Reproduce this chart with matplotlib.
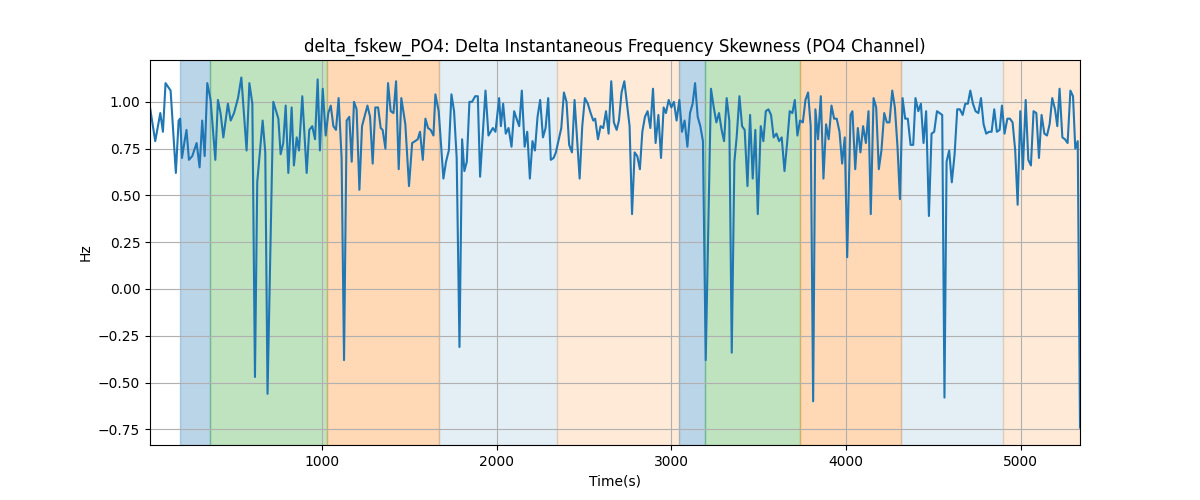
import matplotlib
matplotlib.use("Agg")
import matplotlib.pyplot as plt

# time (s) and delta skewness (Hz)
t = [15, 45, 74, 89, 104, 133, 163, 179, 188, 198, 213, 224, 238, 257, 282, 299, 314, 328,
     343, 362, 389, 404, 419, 435, 461, 477, 496, 519, 538, 568, 584, 601, 616, 629, 660, 675,
     688, 721, 750, 763, 778, 792, 807, 826, 839, 855, 868, 887, 912, 927, 944, 960, 975, 988,
     1004, 1021, 1036, 1050, 1065, 1080, 1095, 1112, 1126, 1141, 1156, 1170, 1183, 1198, 1214,
     1229, 1260, 1275, 1290, 1305, 1321, 1336, 1347, 1363, 1378, 1393, 1409, 1424, 1439, 1454,
     1477, 1498, 1516, 1533, 1548, 1561, 1577, 1592, 1607, 1622, 1638, 1649, 1668, 1695, 1710,
     1726, 1741, 1756, 1771, 1787, 1802, 1815, 1829, 1844, 1859, 1877, 1892, 1905, 1920, 1936,
     1953, 1978, 1993,
     2014, 2024, 2037, 2052, 2068, 2085, 2100, 2114, 2129, 2144, 2160, 2175, 2190, 2205, 2219,
     2234, 2249, 2265, 2280, 2295, 2310, 2326, 2339, 2370, 2385, 2400, 2415, 2431, 2446, 2461,
     2475, 2490, 2505, 2522, 2538, 2553, 2564, 2580, 2595, 2610, 2626, 2641, 2656, 2671, 2687,
     2700, 2715, 2731, 2746, 2761, 2775, 2790, 2805, 2820, 2834, 2849, 2864, 2880, 2895, 2910,
     2926, 2941, 2956, 2969, 2985, 3000, 3015, 3030, 3046, 3061, 3076, 3092, 3107, 3122, 3136,
     3151, 3166, 3181, 3197, 3227, 3243, 3258, 3273, 3288, 3302, 3317, 3332, 3346,
     3361, 3374, 3390, 3405, 3420, 3436, 3451, 3466, 3481, 3495, 3512, 3527, 3541, 3556, 3571,
     3586, 3602, 3617, 3632, 3648, 3663, 3678, 3693, 3707, 3722, 3737, 3753, 3768, 3783, 3798,
     3812, 3825, 3840, 3856, 3871, 3886, 3901, 3917, 3932, 3947, 3963, 3978, 3993, 4007,
     4026, 4037, 4053, 4068, 4083, 4098, 4114, 4129, 4142, 4158, 4173, 4188, 4203, 4219, 4234,
     4249, 4265, 4280, 4295, 4309, 4324, 4339, 4354, 4370, 4385, 4398, 4414, 4429, 4444, 4459,
     4475, 4490, 4505, 4521, 4536, 4551, 4564, 4576, 4591, 4606, 4622, 4637, 4652, 4668, 4683,
     4698, 4712, 4727, 4742, 4758, 4773, 4788, 4803, 4819, 4834, 4849, 4864, 4880, 4893, 4908,
     4924, 4939, 4954, 4969, 4983, 4998, 5013, 5029, 5044, 5059, 5074, 5090, 5105, 5120, 5136,
     5151, 5166, 5181, 5197, 5210, 5223, 5239, 5254, 5269, 5285, 5300, 5313, 5327, 5340]

hz = [0.97, 0.79, 0.94, 0.84, 1.10, 1.06, 0.62, 0.90, 0.91, 0.70, 0.79, 0.85, 0.69, 0.71, 0.78,
      0.65, 0.90, 0.71, 1.10, 1.01, 0.69, 1.01, 0.94, 0.81, 0.99, 0.90, 0.94, 1.02, 1.13, 0.74,
      1.10, 0.99, -0.47, 0.57, 0.90, 0.73, -0.56, 1.00, 0.91, 0.72, 0.78, 0.98, 0.62, 0.97,
      0.66, 0.81, 0.74, 1.03, 0.62, 0.85, 0.87, 0.80, 1.12, 0.74, 1.07, 0.82, 0.94, 0.98, 0.87,
      0.85, 1.02, 0.70, -0.38, 0.90, 0.92, 0.68, 1.00, 0.96, 0.53, 0.87, 0.98, 0.92, 0.67, 0.97,
      0.97, 0.86, 0.85, 0.75, 1.10, 0.95, 0.94, 1.11, 0.64, 1.02, 0.88, 0.55, 0.78, 0.79, 0.80,
      0.84, 0.69, 0.91, 0.86, 0.85, 0.82, 1.04, 0.95, 0.59, 0.68, 0.74, 1.04, 0.95, 0.70, -0.31,
      0.80, 0.63, 0.68, 1.00, 1.00, 1.03, 1.03, 0.60, 0.82, 1.06, 0.82, 0.86, 0.84,
      1.02, 0.87, 0.99, 0.83, 0.86, 0.76, 0.95, 0.91, 0.87, 1.06, 0.76, 0.84, 0.59, 0.79, 0.74,
      0.92, 1.01, 0.81, 0.86, 1.02, 0.69, 0.70, 0.73, 0.86, 1.05, 1.00, 0.77, 0.73, 1.01, 0.79,
      0.59, 0.87, 1.02, 0.99, 0.94, 0.90, 0.91, 0.80, 0.87, 0.86, 0.95, 0.83, 1.11, 0.89, 0.85,
      0.90, 1.05, 1.11, 0.99, 0.87, 0.40, 0.73, 0.71, 0.64, 0.84, 0.92, 0.95, 0.86, 1.07, 0.78,
      0.93, 0.70, 0.97, 0.94, 1.01, 0.97, 1.00, 0.90, 1.01, 0.84, 0.90, 0.76, 0.94, 0.99, 1.10,
      0.92, 0.87, 0.79, -0.38, 1.07, 0.97, 0.89, 0.94, 0.85, 0.79, 1.02, 0.90, -0.34,
      0.68, 0.81, 1.03, 0.87, 0.85, 0.55, 0.93, 0.59, 0.85, 0.40, 0.87, 0.79, 0.95, 0.96, 0.93,
      0.81, 0.83, 0.79, 0.81, 0.63, 0.78, 0.95, 0.94, 1.01, 0.82, 0.90, 0.89, 1.01, 1.05, 0.87,
      -0.60, 0.96, 0.80, 1.03, 0.59, 0.88, 0.80, 0.98, 0.91, 0.91, 0.84, 0.67, 0.81, 0.17,
      0.93, 0.95, 0.64, 0.86, 0.73, 0.87, 0.78, 0.95, 0.40, 1.02, 0.97, 0.64, 0.74, 0.94, 0.89,
      0.89, 1.06, 0.97, 0.76, 0.48, 1.02, 0.91, 0.91, 0.77, 0.77, 1.02, 0.95, 0.99, 0.78, 0.95,
      0.39, 0.83, 0.84, 0.95, 0.94, 0.93, -0.58, 0.68, 0.74, 0.57, 0.72, 0.96, 0.96, 0.93, 0.99,
      0.99, 1.06, 0.99, 0.95, 0.94, 1.02, 0.88, 0.83, 0.84, 0.84, 0.96, 0.84, 0.85, 0.98, 0.83,
      0.91, 0.91, 0.89, 0.74, 0.45, 0.95, 0.64, 1.01, 0.69, 0.66, 0.95, 0.94, 0.70, 0.93, 0.83,
      0.82, 0.88, 1.02, 0.96, 0.87, 1.07, 0.81, 0.80, 0.78, 1.06, 1.03, 0.75, 0.79, -0.74]

# shaded phases: (start, end, color, alpha)
phases = [
    (186, 358, "tab:blue", 0.3),
    (358, 1027, "tab:green", 0.3),
    (1027, 1669, "tab:orange", 0.3),
    (1669, 2343, "tab:blue", 0.12),
    (2343, 3042, "tab:orange", 0.16),
    (3042, 3191, "tab:blue", 0.3),
    (3191, 3735, "tab:green", 0.3),
    (3735, 4316, "tab:orange", 0.3),
    (4316, 4899, "tab:blue", 0.12),
    (4899, 5340, "tab:orange", 0.16),
]

fig, ax = plt.subplots(figsize=(12, 5))
for start, end, color, alpha in phases:
    ax.axvspan(start, end, color=color, alpha=alpha)

ax.plot(t, hz, color="tab:blue")
ax.set_xlim(t[0], t[-1])
ax.set_title("delta_fskew_PO4: Delta Instantaneous Frequency Skewness (PO4 Channel)")
ax.set_xlabel("Time(s)")
ax.set_ylabel("Hz")
ax.grid(True)

fig.savefig("out.png", dpi=100)
